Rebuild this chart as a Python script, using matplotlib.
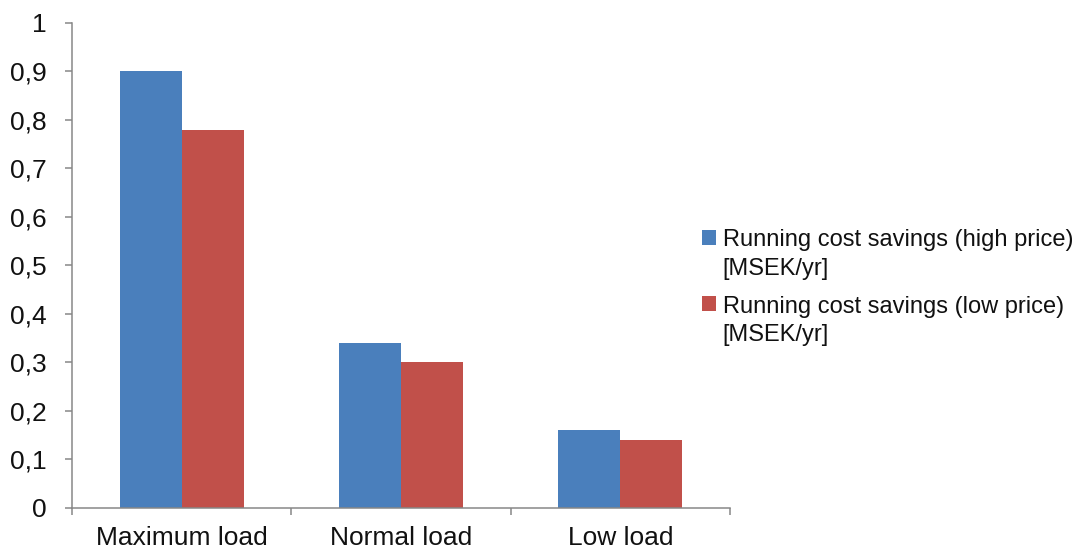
import matplotlib.pyplot as plt
import matplotlib.patches as mpatches
from matplotlib.legend_handler import HandlerPatch
from matplotlib.ticker import FixedLocator, FuncFormatter
import numpy as np

plt.rcParams['font.family'] = ['Liberation Sans', 'DejaVu Sans']

categories = ['Maximum load', 'Normal load', 'Low load']
high_price = [0.90, 0.34, 0.16]
low_price = [0.78, 0.30, 0.14]
series_labels = ['Running cost savings (high price)\n[MSEK/yr]',
                 'Running cost savings (low price)\n[MSEK/yr]']
y_ticks = [0, 0.1, 0.2, 0.3, 0.4, 0.5, 0.6, 0.7, 0.8, 0.9, 1.0]

BLUE = '#4A7FBC'
RED = '#C1504A'
AXIS_GREY = '#878787'
SQUARE_LIFT_PT = 12.6  # raise the legend square up to the first label line


def top_square(legend, orig_handle, xdescent, ydescent, width, height, fontsize):
    # legend square sits beside the first line of a two-line label
    return mpatches.Rectangle((-xdescent, -ydescent + SQUARE_LIFT_PT), width, height)


fig = plt.figure(figsize=(10.78, 5.5), dpi=100)
ax = fig.add_axes([72 / 1078, 42.5 / 550, 658 / 1078, 484.5 / 550])

x = np.arange(len(categories))
bar_w = 0.283
bars_high = ax.bar(x - bar_w / 2, high_price, bar_w, color=BLUE)
bars_low = ax.bar(x + bar_w / 2, low_price, bar_w, color=RED)

ax.set_xlim(-0.5, len(categories) - 0.5)
ax.set_ylim(0, 1)

for side in ['top', 'right']:
    ax.spines[side].set_visible(False)
for side in ['left', 'bottom']:
    ax.spines[side].set_color(AXIS_GREY)
    ax.spines[side].set_linewidth(1.1)

ax.set_yticks(y_ticks)
ax.yaxis.set_major_formatter(FuncFormatter(lambda v, _: f'{v:g}'.replace('.', ',')))
ax.tick_params(axis='y', direction='out', length=5, width=1.1, color=AXIS_GREY,
               labelsize=19, pad=13, labelcolor='#111111')

ax.set_xticks(x)
ax.set_xticklabels(categories)
ax.xaxis.set_minor_locator(FixedLocator(np.arange(len(categories) + 1) - 0.5))
ax.tick_params(axis='x', which='major', length=0, labelsize=19, pad=13.5,
               labelcolor='#111111')
ax.tick_params(axis='x', which='minor', direction='out', length=5, width=1.1,
               color=AXIS_GREY)

handles = [bars_high.patches[0], bars_low.patches[0]]
leg = fig.legend(handles, series_labels, loc='upper left',
                 bbox_to_anchor=(702 / 1078, 1 - 229 / 550),
                 frameon=False, fontsize=17, borderpad=0, borderaxespad=0,
                 handlelength=0.6, handleheight=0.6, handletextpad=0.28,
                 labelspacing=0.67,
                 handler_map={mpatches.Rectangle: HandlerPatch(patch_func=top_square)})
for t in leg.get_texts():
    t.set_color('#111111')
    t.set_linespacing(1.4)

fig.savefig('out.png', dpi=100)
